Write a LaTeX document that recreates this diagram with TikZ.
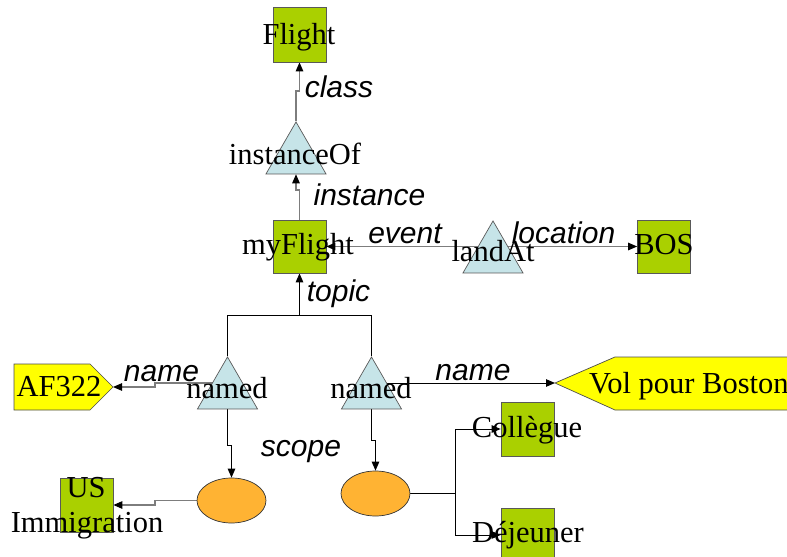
\documentclass[tikz,border=0pt]{standalone}
\usepackage{fontspec}
\setmainfont{Liberation Serif}
\newfontfamily\labfont{Liberation Sans}
\usetikzlibrary{arrows.meta,shapes.geometric}
\pgfdeclarelayer{bg}
\pgfsetlayers{bg,main}
\definecolor{boxgreen}{RGB}{170,208,0}
\definecolor{trifill}{RGB}{198,228,232}
\definecolor{ovalfill}{RGB}{255,179,51}
\definecolor{edgegrey}{RGB}{125,125,125}
\definecolor{pentyellow}{RGB}{255,255,0}
\begin{document}
\begin{tikzpicture}[x=1bp,y=-1bp,
  topicbox/.style={draw=black!65, fill=boxgreen, minimum width=53bp, minimum height=54bp, inner sep=0pt, line width=0.7bp},
  assoc/.style={regular polygon, regular polygon sides=3, draw=black!65, fill=trifill, minimum size=69.3bp, inner sep=0pt, line width=0.7bp},
  scopeoval/.style={ellipse, draw=black!80, fill=ovalfill, minimum width=69bp, minimum height=45bp, inner sep=0pt, line width=0.7bp},
  namebox/.style={draw=black!70, fill=pentyellow, line width=0.7bp},
  txt/.style={font=\fontsize{30.5bp}{36bp}\selectfont, inner sep=0pt, anchor=base},
  rel/.style={font=\fontsize{30bp}{36bp}\selectfont\labfont\itshape, inner sep=0pt, anchor=base},
  gline/.style={draw=edgegrey, line width=1.1bp},
  bline/.style={draw=black, line width=1bp},
  tip/.style={-{Triangle[length=9bp,width=7.5bp,color=black]}}
]
\useasboundingbox (0,0) rectangle (787,557);

% shapes
\node[topicbox, minimum height=55bp] (flight) at (299.5,34.5) {};
\node[assoc] (instof) at (296,156.6) {};
\node[topicbox, minimum height=53bp] (myflight) at (299.5,246.5) {};
\node[assoc] (landat) at (493,255.6) {};
\node[topicbox, minimum height=53bp] (bos) at (664,246.5) {};
\node[assoc] (namedL) at (227.5,391.6) {};
\node[assoc] (namedR) at (371.5,391.6) {};
\node[scopeoval] (ellL) at (231.5,500.5) {};
\node[scopeoval] (ellR) at (375.5,493.5) {};
\node[topicbox] (us) at (86.5,505) {};
\node[topicbox] (coll) at (527.5,429) {};
\node[topicbox] (dej) at (527.5,535) {};
\draw[namebox] (14,364) -- (90,364) -- (113,387) -- (90,410) -- (14,410) -- cycle;
\coordinate (afpt) at (113,387);
\draw[namebox] (555,383) -- (615,357) -- (800,357) -- (800,410) -- (615,410) -- cycle;
\coordinate (vpt) at (555,383);

% helper coordinates
\coordinate (j1) at (299.5,91);
\coordinate (j2) at (296,190);
\coordinate (tj) at (299.5,315);
\coordinate (nL) at (227.5,383);
\coordinate (nLj) at (155,383);
\coordinate (nLk) at (155,387);
\coordinate (nR) at (371.5,383);
\coordinate (sL) at (231.5,445);
\coordinate (sR) at (375.5,440);
\coordinate (uj) at (155,500.5);
\coordinate (uk) at (155,505);
\coordinate (tr) at (455,493.5);

\begin{pgfonlayer}{bg}
\draw[gline,tip] (instof.north) |- (j1) -- (flight.south);
\draw[gline,tip] (myflight.north) |- (j2) -- (instof.south);
\draw[gline,tip] (landat.center |- myflight.east) -- (myflight.east);
\draw[gline,tip] (landat.center |- bos.west) -- (bos.west);
\draw[bline,tip] (tj) -- (myflight.south);
\draw[bline] (namedL.north) -- (namedL.north |- tj) -- (namedR.north |- tj) -- (namedR.north);
\draw[gline,tip] (nL) -- (nLj) -- (nLk) -- (afpt);
\draw[bline,tip] (nR) -- (vpt);
\draw[bline,tip] (namedL.south) |- (sL) -- (ellL.north);
\draw[bline,tip] (namedR.south) |- (sR) -- (ellR.north);
\draw[gline,tip] (ellL.west) -- (uj) -- (uk) -- (us.east);
\draw[bline] (ellR.east) -- (tr);
\draw[bline,tip] (tr) |- (coll.west);
\draw[bline,tip] (tr) |- (dej.west);
\end{pgfonlayer}

% texts
\node[txt] (tflight) at (299,45) {Flight};
\node[txt] (tinstof) at (295,165) {instanceOf};
\node[txt] (tmyflight) at (298,255) {myFlight};
\node[txt] (tlandat) at (493,262) {landAt};
\node[txt] (tbos) at (664,255) {BOS};
\node[txt] (tnamedL) at (227,398) {named};
\node[txt] (tnamedR) at (371,398) {named};
\node[txt] (taf) at (59,396) {AF322};
\node[txt, anchor=base west] (tvol) at (589,393) {Vol pour Boston};
\node[txt] (tcoll) at (527,437) {Collègue};
\node[txt] (tdej) at (528,542) {Déjeuner};
\node[txt] (tus) at (86,497) {US};
\node[txt] (timm) at (87,532) {Immigration};

\node[rel] (lclass) at (339,98) {class};
\node[rel] (linst) at (369.5,206) {instance};
\node[rel] (levent) at (405,244) {event};
\node[rel] (lloc) at (563.5,244) {location};
\node[rel] (ltopic) at (338.5,302) {topic};
\node[rel] (lnameL) at (161.5,381) {name};
\node[rel] (lnameR) at (473,380) {name};
\node[rel] (lscope) at (301,456) {scope};
\end{tikzpicture}
\end{document}
